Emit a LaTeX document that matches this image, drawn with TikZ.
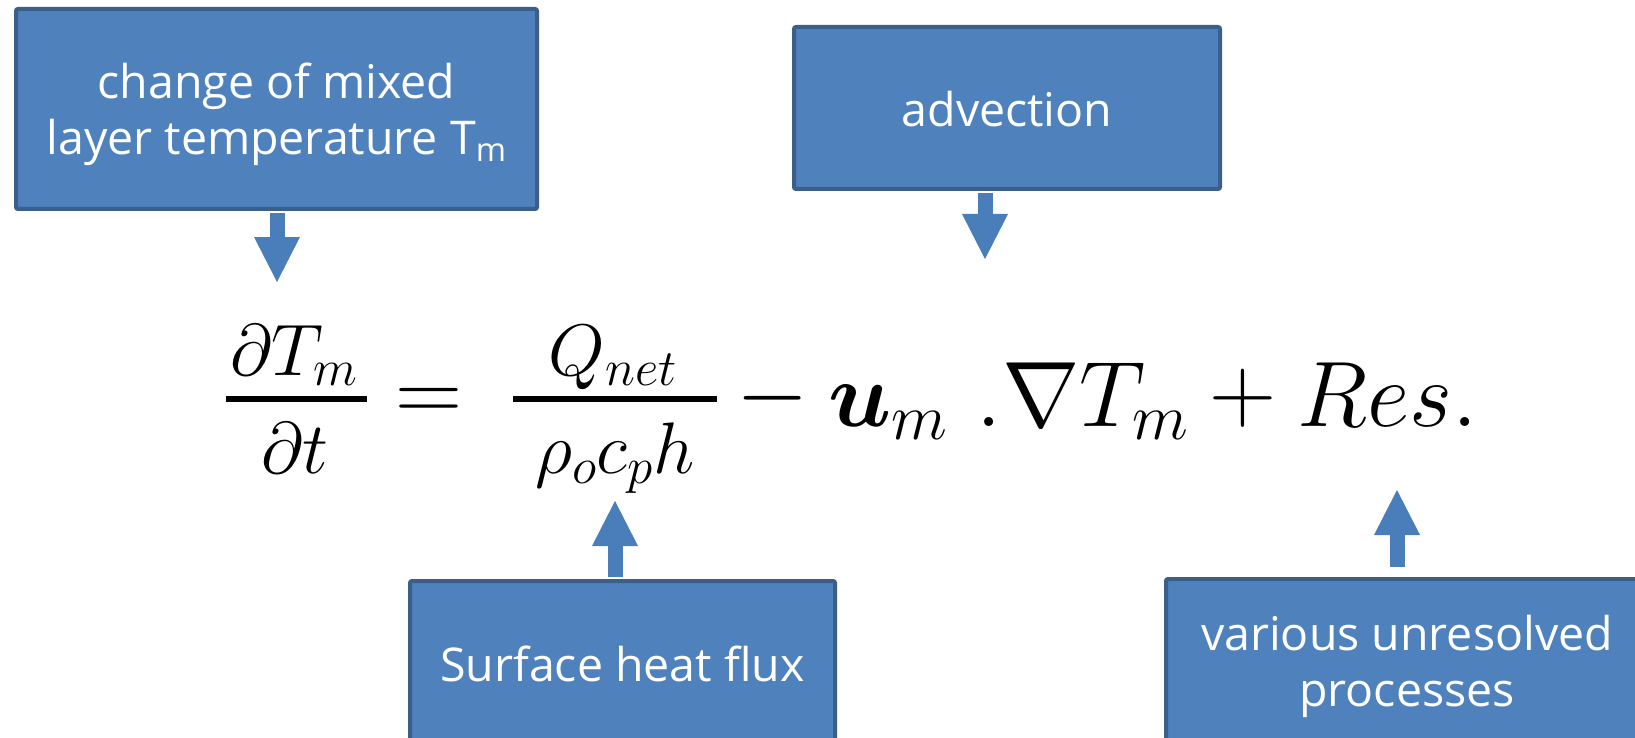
\RequirePackage{fix-cm}
\documentclass[tikz,border=0pt]{standalone}
\usepackage{amsmath,bm}
\usepackage{fontspec}
\newfontfamily\boxfont{Open Sans}
\usetikzlibrary{arrows.meta,calc}
\definecolor{boxfill}{HTML}{4F81BD}
\definecolor{boxline}{HTML}{3A5F8B}
\definecolor{arrowfill}{HTML}{4A7EBB}
\tikzset{
  box/.style={draw=boxline, fill=boxfill, line width=4pt, rounded corners=2pt,
    text=white, font=\boxfont\fontsize{46.5}{56}\selectfont, align=center, inner sep=0pt},
  blockarrow/.style={draw=arrowfill, line width=15pt,
    -{Triangle[width=46pt,length=45pt,line width=0pt,fill=arrowfill]}},
  big/.style={inner sep=0pt, anchor=base, font=\fontsize{93}{100}\selectfont},
  small/.style={inner sep=0pt, anchor=base, font=\fontsize{73}{80}\selectfont},
  fracbar/.style={line width=6pt, line cap=butt}
}
\begin{document}
\begin{tikzpicture}[x=1pt,y=-1pt]
\useasboundingbox (0,0) rectangle (1635,738);
\clip (0,0) rectangle (1635,738);

% arrow tips
\coordinate (t1) at (277,282);
\coordinate (t2) at (985,259);
\coordinate (t3) at (615,501);
\coordinate (t4) at (1397,490);

% box centres
\path (276.5,109) coordinate (c1);
\path (1007,108) coordinate (c2);
\path (622.5,664) coordinate (c3);
\path (1407,666.5) coordinate (c4);

% equation
\node[small] (n1) at (294,375) {$\partial T_m$};
\node[small] (d1) at (295,473) {$\partial t$};
\draw[fracbar] (226,399) -- (367,399);
\node[big] (eq) at (428.5,421) {$=$};
\node[small] (n2) at (613,375) {$Q_{net}$};
\node[small] (d2) at (615,473) {$\rho_o c_p h$};
\draw[fracbar] (513,399) -- (717,399);
\node[big] (mi) at (773,421) {$-$};
\node[big] (um) at (888,426) {$\bm{u}_m$};
\node[big] (gr) at (1083,426) {$.\nabla T_m$};
\node[big] (pl) at (1243,421) {$+$};
\node[big] (res) at (1388,426) {$Res.$};

% boxes
\node[box, minimum width=521pt, minimum height=200pt] (b1) at (c1)
  {\rule{0pt}{48pt}change of mixed\\layer temperature T\textsubscript{m}\rule[-12pt]{0pt}{12pt}};
\node[box, minimum width=426pt, minimum height=162pt] (b2) at (c2)
  {\rule{0pt}{40pt}advection\rule[-2pt]{0pt}{2pt}};
\node[box, minimum width=425pt, minimum height=166pt] (b3) at (c3)
  {\rule{0pt}{36pt}Surface heat flux};
\node[box, minimum width=482pt, minimum height=175pt] (b4) at (c4)
  {\rule{0pt}{36pt}various unresolved\\processes\rule[-12pt]{0pt}{12pt}};

% arrows
\draw[blockarrow] ($(b1.south -| t1)+(0,2)$) -- (t1);
\draw[blockarrow] ($(b2.south -| t2)+(0,2)$) -- (t2);
\draw[blockarrow] ($(b3.north -| t3)+(0,-2)$) -- (t3);
\draw[blockarrow] ($(b4.north -| t4)+(0,-10)$) -- (t4);
\end{tikzpicture}
\end{document}
